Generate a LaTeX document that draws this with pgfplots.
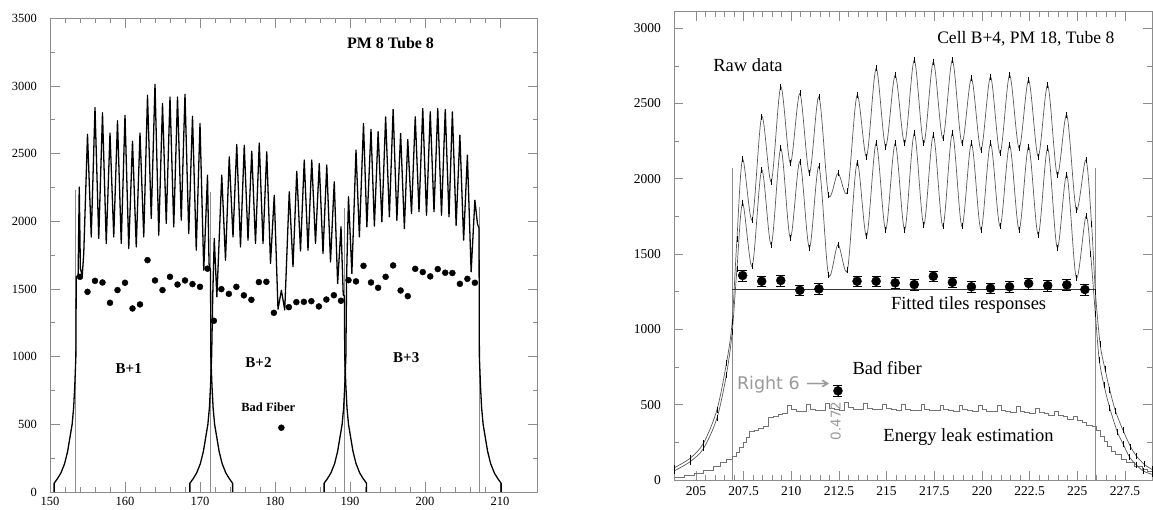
\documentclass[border=0pt]{standalone}
\usepackage{fontspec}
\setmainfont{Liberation Serif}
\newfontfamily\dejavu{DejaVu Sans}
\usepackage{graphicx}
\usepackage{pgfplots}
\pgfplotsset{compat=1.18}
\begin{document}
\begin{tikzpicture}
\useasboundingbox (0pt,0pt) rectangle (1153pt,510pt);
% ---------------- LEFT PANEL ----------------
\begin{axis}[
 at={(50pt,18pt)}, anchor=south west, scale only axis,
 width=487.5pt, height=473.7pt,
 xmin=150, xmax=215, ymin=0, ymax=3500,
 xtick={150,160,170,180,190,200,210}, minor x tick num=4,
 ytick={0,500,1000,1500,2000,2500,3000,3500}, minor y tick num=1,
 axis line style={black!45, line width=0.8pt},
 tick style={black!45, line width=0.7pt},
 major tick length=10pt, minor tick length=5pt,
 tick align=inside,
 /pgf/number format/assume math mode=true,
 /pgf/number format/1000 sep={},
 tick label style={font=\fontsize{12.5}{13}\selectfont},
 yticklabel style={inner sep=0pt, xshift=-13pt},
 xticklabel style={inner sep=0pt, yshift=-5pt},
]
\addplot[black!45, line width=0.8pt] coordinates {(153.45,0) (153.45,2228)};
\addplot[black!45, line width=0.8pt] coordinates {(171.45,0) (171.45,2220)};
\addplot[black!45, line width=0.8pt] coordinates {(189.3,0) (189.3,2095)};
\addplot[black!45, line width=0.8pt] coordinates {(207.25,0) (207.25,2105)};
% B+1
\addplot[black, line width=1.3pt, line join=round] coordinates {
(150.55,0) (150.55,65) (150.95,95) (151.45,140) (151.95,210) (152.35,300) (152.65,400) (152.95,500) (153.15,620) (153.3,780) (153.45,1000) (153.5,1590) (153.75,1600) (153.9,2254) (154.05,1650) (154.3,1600) (154.5,1762) (155,2643) (155.5,1885) (156,2840) (156.5,1873) (157,2801) (157.5,1836) (158,2653) (158.5,1885) (159,2742) (159.5,1836) (160,2784) (160.5,1799) (161,2592) (161.5,1811) (162,2653) (162.5,1885) (163,2931) (163.5,2021) (164,3013) (164.5,1898) (165,2870) (165.5,1984) (166,2919) (166.5,1959) (167,2919) (167.5,2008) (168,2939) (168.5,1910) (169,2776) (169.5,1787) (170,2722) (170.5,1639) (171,2341) (171.2,1700) (171.25,1650) (171.4,1650) (171.45,1000) (171.6,780) (171.75,620) (171.95,500) (172.25,400) (172.55,300) (172.95,210) (173.45,140) (173.95,95) (174.35,65) (174.35,0)};
% B+2
\addplot[black, line width=1.3pt, line join=round] coordinates {
(168.65,0) (168.65,65) (169.05,95) (169.55,140) (170.05,210) (170.45,300) (170.75,400) (171.05,500) (171.25,620) (171.4,780) (171.55,1000) (171.7,1450) (171.9,1873) (172.25,1442) (172.9,2341) (173.4,1713) (173.9,2476) (174.4,1885) (174.9,2567) (175.4,1811) (175.9,2562) (176.4,1861) (176.9,2518) (177.4,1836) (177.9,2579) (178.4,1836) (178.9,2513) (179.4,1689) (179.9,2193) (180.4,1350) (180.85,1490) (181.3,1345) (181.9,2218) (182.4,1664) (182.9,2370) (183.4,1780) (183.9,2452) (184.4,1787) (184.9,2452) (185.4,1836) (185.9,2427) (186.4,1762) (186.9,2415) (187.4,1700) (187.9,2292) (188.35,1540) (188.8,1959) (189.1,1455) (189.25,1450) (189.3,1000) (189.45,780) (189.6,620) (189.8,500) (190.1,400) (190.4,300) (190.8,210) (191.3,140) (191.8,95) (192.2,65) (192.2,0)};
% B+3
\addplot[black, line width=1.3pt, line join=round] coordinates {
(186.55,0) (186.55,65) (186.95,95) (187.45,140) (187.95,210) (188.35,300) (188.65,400) (188.95,500) (189.15,620) (189.3,780) (189.45,1000) (189.55,1600) (189.8,2181) (190.25,1614) (190.8,2526) (191.25,1885) (191.8,2723) (192.25,1959) (192.8,2679) (193.25,1964) (193.75,2662) (194.25,1996) (194.75,2772) (195.25,2033) (195.75,2826) (196.25,2008) (196.75,2649) (197.25,1947) (197.7,2605) (198.2,2057) (198.7,2772) (199.2,2070) (199.7,2833) (200.2,2045) (200.7,2809) (201.2,2070) (201.7,2833) (202.2,2045) (202.7,2826) (203.2,2033) (203.65,2809) (204.15,1971) (204.65,2637) (205.15,1861) (205.65,2489) (206.15,1627) (206.65,2156) (207.0,1980) (207.2,1950) (207.25,1000) (207.4,780) (207.55,620) (207.75,500) (208.05,400) (208.35,300) (208.75,210) (209.25,140) (209.75,95) (210.15,65) (210.15,0)};
% tile responses
\addplot[only marks, mark=*, mark size=3pt, black] coordinates {
(154,1590) (155,1479) (156,1560) (157,1548) (158,1398) (159,1492) (160,1546) (161,1356) (162,1386) (163,1713) (164,1563) (165,1492) (166,1590) (167,1533) (168,1563) (169,1536) (170,1516) (171,1650)
(171.85,1265) (172.85,1499) (173.85,1464) (174.85,1516) (175.85,1453) (176.85,1420) (177.85,1551) (178.85,1553) (179.85,1324) (180.85,475) (181.85,1366) (182.85,1403) (183.85,1405) (184.85,1410) (185.85,1371) (186.85,1422) (187.85,1454) (188.8,1413)
(189.8,1565) (190.8,1556) (191.8,1671) (192.8,1548) (193.75,1509) (194.75,1590) (195.75,1674) (196.75,1489) (197.7,1447) (198.7,1649) (199.7,1625) (200.7,1593) (201.7,1647) (202.7,1620) (203.65,1618) (204.65,1538) (205.65,1575) (206.65,1546)};
\node[font=\bfseries\fontsize{16}{17}\selectfont] at (axis cs:195.4,3314) {PM 8 Tube 8};
\node[font=\bfseries\fontsize{15}{16}\selectfont] at (axis cs:160.5,915) {B+1};
\node[font=\bfseries\fontsize{15}{16}\selectfont] at (axis cs:177.8,955) {B+2};
\node[font=\bfseries\fontsize{15}{16}\selectfont] at (axis cs:197.5,996) {B+3};
\node[font=\bfseries\fontsize{12.5}{13}\selectfont] at (axis cs:179.1,629) {Bad Fiber};
\end{axis}
% ---------------- RIGHT PANEL ----------------
\begin{axis}[
 at={(674pt,30pt)}, anchor=south west, scale only axis,
 width=478pt, height=468.3pt,
 xmin=203.85, xmax=228.92, ymin=0, ymax=3110,
 xtick={205,207.5,210,212.5,215,217.5,220,222.5,225,227.5}, minor x tick num=4,
 ytick={0,500,1000,1500,2000,2500,3000}, minor y tick num=1,
 axis line style={black!45, line width=0.8pt},
 tick style={black!45, line width=0.7pt},
 major tick length=9pt, minor tick length=5pt,
 tick align=inside,
 /pgf/number format/assume math mode=true,
 /pgf/number format/1000 sep={},
 tick label style={font=\fontsize{13.5}{14}\selectfont},
 yticklabel style={inner sep=0pt, xshift=-13pt},
 xticklabel style={inner sep=0pt, yshift=-6pt},
]
\addplot[black!45, line width=0.8pt] coordinates {(206.9,0) (206.9,2070)};
\addplot[black!45, line width=0.8pt] coordinates {(225.95,0) (225.95,2070)};
% energy leak estimation
\addplot[const plot, black!55, line width=0.8pt] coordinates {
(203.85,20) (204.4,30) (204.9,45) (205.4,65) (205.9,90) (206.3,115) (206.6,135) (206.9,155) (207.1,180) (207.3,215) (207.5,250) (207.65,280) (207.8,321) (208.05,330) (208.3,340) (208.55,354) (208.8,416) (209.05,425) (209.3,435) (209.55,442)
(209.8,496) (210,466) (210.25,458) (210.5,455)
(210.8,501) (211,471) (211.25,463) (211.5,460)
(211.8,506) (212,476) (212.25,468) (212.5,465)
(212.8,515) (213,480) (213.25,472) (213.5,469)
(213.8,508) (214,478) (214.25,470) (214.5,467)
(214.8,504) (215,474) (215.25,466) (215.5,463)
(215.8,501) (216,471) (216.25,463) (216.5,460)
(216.8,500) (217,470) (217.25,462) (217.5,459)
(217.8,498) (218,468) (218.25,460) (218.5,457)
(218.8,498) (219,468) (219.25,460) (219.5,457)
(219.8,496) (220,466) (220.25,458) (220.5,455)
(220.8,493) (221,463) (221.25,455) (221.5,452)
(221.8,488) (222,458) (222.25,450) (222.5,445)
(222.8,478) (223,448) (223.25,440) (223.5,432)
(223.8,458) (224,428) (224.25,420) (224.5,405)
(224.8,423) (225,393) (225.25,385) (225.5,365)
(225.8,358) (226,330) (226.2,290) (226.4,255) (226.6,220) (226.8,192) (227.0,168) (227.3,140) (227.6,115) (228.0,90) (228.4,70) (228.7,55) (228.92,45)};
% raw data, upper
\addplot[smooth, black!65, line width=0.7pt, mark=|, mark size=3pt, mark options={black, line width=0.6pt, solid}] coordinates {
(203.85,80) (204.7,145) (205.4,245) (206.1,465) (206.6,775) (206.9,1050) (207.15,1600) (207.45,2130) (207.95,1728) (208.45,2413) (208.95,1982) (209.45,2611) (209.95,2104) (210.45,2567) (210.95,2037) (211.45,2545) (211.95,1894) (212.45,2037) (212.95,1916) (213.45,2556) (213.95,2148) (214.45,2733) (214.95,2214) (215.45,2689) (215.95,2236) (216.45,2788) (216.95,2236) (217.45,2777) (217.95,2269) (218.45,2788) (218.95,2236) (219.45,2667) (219.95,2192) (220.45,2678) (220.95,2170) (221.45,2689) (221.95,2203) (222.45,2656) (222.95,2148) (223.45,2623) (223.95,2026) (224.45,2424) (224.95,1795) (225.45,2126) (225.75,1700) (225.95,1250) (226.2,900) (226.45,740) (226.7,600) (227.0,460) (227.4,330) (227.8,220) (228.1,160) (228.5,105) (228.92,70)};
% raw data, lower
\addplot[smooth, black!65, line width=0.7pt, mark=|, mark size=3pt, mark options={black, line width=0.6pt, solid}] coordinates {
(203.85,60) (204.7,122) (205.4,210) (206.1,410) (206.6,700) (206.9,980) (207.15,1400) (207.45,1838) (207.95,1419) (208.45,2060) (208.95,1563) (209.45,2203) (209.95,1607) (210.45,2115) (210.95,1541) (211.45,2082) (211.95,1364) (212.45,1563) (212.95,1397) (213.45,2108) (213.95,1618) (214.45,2236) (214.95,1662) (215.45,2236) (215.95,1662) (216.45,2302) (216.95,1695) (217.45,2291) (217.95,1684) (218.45,2302) (218.95,1684) (219.45,2236) (219.95,1662) (220.45,2236) (220.95,1684) (221.45,2225) (221.95,1662) (222.45,2214) (222.95,1629) (223.45,2203) (223.95,1541) (224.45,2026) (224.95,1342) (225.45,1751) (225.7,1500) (225.95,1100) (226.15,800) (226.4,630) (226.7,480) (227.1,320) (227.4,240) (227.75,150) (228.1,100) (228.45,60) (228.92,38)};
% fitted tiles response
\addplot[black!80, line width=1.6pt] coordinates {(206.9,1265) (225.95,1265)};
% tile responses
\addplot[only marks, mark=*, mark size=4.5pt, black, error bars/.cd, y dir=both, y fixed=35, error bar style={black, line width=0.8pt}] coordinates {
(207.45,1358) (208.45,1320) (209.45,1325) (210.45,1260) (211.45,1269) (212.45,592) (213.45,1320) (214.45,1320) (215.45,1309) (216.45,1298) (217.45,1353) (218.45,1313) (219.45,1283) (220.45,1274) (221.45,1283) (222.45,1305) (223.45,1291) (224.45,1296) (225.4,1265)};
\node[font=\fontsize{17.5}{18}\selectfont] at (axis cs:222.3,2928) {Cell B+4, PM 18, Tube 8};
\node[font=\fontsize{18.5}{19}\selectfont] at (axis cs:207.73,2756) {Raw data};
\node[font=\fontsize{18.5}{19}\selectfont] at (axis cs:219.3,1162) {Fitted tiles responses};
\node[font=\fontsize{18.5}{19}\selectfont] at (axis cs:215.03,743) {Bad fiber};
\node[font=\fontsize{18.5}{19}\selectfont] at (axis cs:219.3,287) {Energy leak estimation};
\node[font=\dejavu\fontsize{17.5}{18}\selectfont, text=black!40] at (axis cs:209.6,631) {Right 6 \scalebox{1.7}[1]{→}};
\node[rotate=90, font=\dejavu\fontsize{13.5}{14}\selectfont, text=black!40] at (axis cs:212.33,393) {0.472};
\end{axis}
\end{tikzpicture}
\end{document}
